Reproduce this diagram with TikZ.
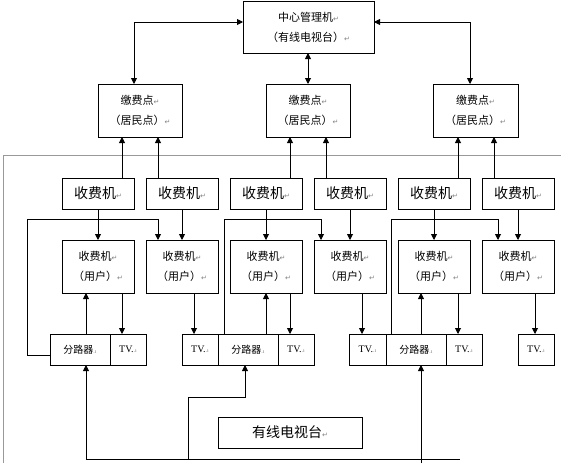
\documentclass[tikz,border=0pt]{standalone}
\usepackage{fontspec}
\setmainfont{Noto Sans CJK SC}
\newfontfamily\dejavu{DejaVu Sans}
\newfontfamily\tvfont{Liberation Serif}
\usetikzlibrary{arrows.meta, positioning}
\newcommand\retmark{{\dejavu\color{gray}\fontsize{7}{7}\selectfont ↵}}
\newcommand\cellmark{{\tvfont\color{gray}\fontsize{6}{6}\selectfont .ı}}

\begin{document}
\begin{tikzpicture}[x=1pt, y=-1pt, line width=0.9pt,
  box/.style={draw, rectangle, inner sep=0pt, outer sep=0pt, align=center},
  twoline/.style={box, minimum height=53pt, font=\fontsize{11}{20}\selectfont},
  oneline/.style={box, minimum width=72pt, minimum height=31pt, font=\fontsize{14}{16}\selectfont},
  cell/.style={box, minimum height=31pt, font=\fontsize{10}{12}\selectfont},
  link/.style={-{Triangle[length=6pt,width=6pt]}},
  both/.style={{Triangle[length=6pt,width=6pt]}-{Triangle[length=6pt,width=6pt]}}]

  \useasboundingbox (0,0) rectangle (561,463);
  \draw[gray!80, line width=1pt] (3,463) -- (3,155) -- (561,155);

  \node[twoline, minimum width=131pt, minimum height=52pt] (center) at (308.5,27)
    {中心管理机\retmark\\（有线电视台）\retmark};
  \node[twoline, minimum width=84pt] (pay1) at (140,110.5) {缴费点\retmark\\（居民点）\retmark};
  \node[twoline, minimum width=84pt] (pay2) at (308,110.5) {缴费点\retmark\\（居民点）\retmark};
  \node[twoline, minimum width=85pt] (pay3) at (475.5,110.5) {缴费点\retmark\\（居民点）\retmark};

  \draw[both] ([yshift=5pt]center.west) -| ([xshift=-6pt]pay1.north);
  \draw[both] (pay2.north |- center.south) -- (pay2.north);
  \draw[both] ([yshift=5pt]center.east) -| ([xshift=-5.5pt]pay3.north);

  \foreach \i/\x in {1/98, 2/182, 3/266, 4/350, 5/434, 6/518} {
    \node[oneline] (chg\i) at (\x,193.5) {收费机\retmark};
    \node[twoline, minimum width=72pt] (usr\i) at (\x,266.5) {收费机\retmark\\（用户）\retmark};
    \draw[link] (chg\i) -- (usr\i);
  }

  \foreach \p/\a/\b in {1/1/2, 2/3/4, 3/5/6} {
    \draw[link] ([xshift=24pt]chg\a.north) -- ([xshift=24pt]chg\a.north |- pay\p.south);
    \draw[link] ([xshift=-24pt]chg\b.north) -- ([xshift=-24pt]chg\b.north |- pay\p.south);
  }

  \node[cell, minimum width=60pt] (spl1) at (80,349.5) {分路器\cellmark};
  \node[cell, minimum width=36pt, right=0pt of spl1] (tv1) {{\tvfont TV.}\cellmark};
  \node[cell, minimum width=36pt] (tv2) at (200,349.5) {{\tvfont TV.}\cellmark};
  \node[cell, minimum width=60pt, right=0pt of tv2] (spl2) {分路器\cellmark};
  \node[cell, minimum width=36pt, right=0pt of spl2] (tv3) {{\tvfont TV.}\cellmark};
  \node[cell, minimum width=37pt] (tv4) at (367.5,349.5) {{\tvfont TV.}\cellmark};
  \node[cell, minimum width=60pt, right=0pt of tv4] (spl3) {分路器\cellmark};
  \node[cell, minimum width=36pt, right=0pt of spl3] (tv5) {{\tvfont TV.}\cellmark};
  \node[cell, minimum width=36pt] (tv6) at (536,349.5) {{\tvfont TV.}\cellmark};

  \foreach \i/\d in {1/24, 2/12, 3/24, 4/12, 5/24, 6/17}
    \draw[link] ([xshift=\d pt]usr\i.south) -- ([xshift=\d pt]usr\i.south |- tv\i.north);

  \draw[link] ([xshift=6pt]spl1.north) -- ([xshift=6pt]spl1.north |- usr1.south);
  \draw[link] (usr3.south |- spl2.north) -- (usr3.south);
  \draw[link] ([xshift=5pt]spl3.north) -- ([xshift=5pt]spl3.north |- usr5.south);

  \coordinate (feed1) at (27,219);
  \coordinate (feed2) at (224,219);
  \coordinate (feed3) at (391,219);
  \draw[link] ([yshift=-5.5pt]spl1.west) -| (feed1) -| ([xshift=12pt]usr2.north west);
  \draw[link] (feed2 |- spl2.north) -- (feed2) -| ([xshift=7pt]usr4.north west);
  \draw[link] (feed3 |- spl3.north) -- (feed3) -| ([xshift=16pt]usr6.north west);

  \node[box, minimum width=144pt, minimum height=31pt, font=\fontsize{14}{16}\selectfont]
    (cable) at (290,432.5) {有线电视台\retmark};

  \coordinate (busL) at (86,459);
  \coordinate (busR) at (460,459);
  \coordinate (busB) at (421,463);
  \coordinate (tap) at (188,459);
  \coordinate (jog) at (245,397);
  \draw (busL) -- (busR);
  \draw[link] (busL) -- (busL |- spl1.south);
  \draw[link] (busB) -- (busB |- spl3.south);
  \draw[link] (tap) |- (jog) -- (jog |- spl2.south);
\end{tikzpicture}
\end{document}
